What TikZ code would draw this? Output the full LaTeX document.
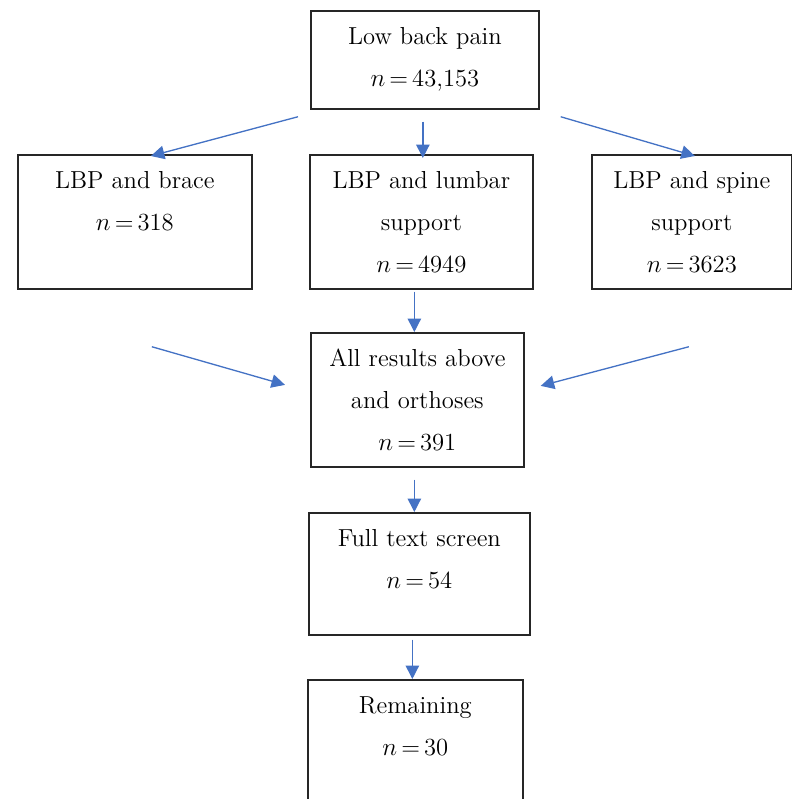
\documentclass[tikz,border=0pt]{standalone}
\usetikzlibrary{arrows.meta}
\definecolor{flowblue}{HTML}{4472C4}
\definecolor{ink}{HTML}{262626}
% box text: width, height, lines (top aligned)
\newcommand{\stagetext}[3]{\parbox[c][#2][t]{#1}{\centering\rule{0pt}{0.68cm}#3}}

\begin{document}
\begin{tikzpicture}[x=0.02cm,y=-0.02cm,font=\fontsize{14}{23.9}\selectfont,
  stage/.style={draw=ink,line width=1pt,inner sep=0pt,anchor=north west},
  flow/.style={draw=flowblue,line width=0.75pt,-{Triangle[length=0.27cm,width=0.27cm]}}]
  \useasboundingbox (0,0) rectangle (792,799);

  % search stages
  \node[stage] (pain) at (310,10) {\stagetext{4.56cm}{1.96cm}{Low back pain\\ $n$\,=\,43,153}};
  \node[stage] (brace) at (17,154) {\stagetext{4.68cm}{2.68cm}{LBP and brace\\ $n$\,=\,318}};
  \node[stage] (lumbar) at (309,154) {\stagetext{4.46cm}{2.68cm}{LBP and lumbar\\ support\\ $n$\,=\,4949}};
  \node[stage] (spine) at (591,154) {\stagetext{4.00cm}{2.68cm}{LBP and spine\\ support\\ $n$\,=\,3623}};
  \node[stage] (all) at (310,332) {\stagetext{4.26cm}{2.68cm}{All results above\\ and orthoses\\ $n$\,=\,391}};
  \node[stage] (screen) at (308,512) {\stagetext{4.42cm}{2.44cm}{Full text screen\\ $n$\,=\,54}};
  \node[stage] (remain) at (307,679) {\stagetext{4.30cm}{3.00cm}{Remaining\\ $n$\,=\,30}};

  % connectors
  \draw[flow] ([shift={(-12,7)}]pain.south west) -- ([shift={(16,2)}]brace.north);
  \draw[flow] ([shift={(-2,12)}]pain.south) -- ([shift={(-2,4)}]pain.south |- lumbar.north);
  \draw[flow] ([shift={(21,7)}]pain.south east) -- ([shift={(3,2)}]spine.north);
  \draw[flow] ([shift={(-7,2)}]lumbar.south) -- ([shift={(-7,0)}]lumbar.south |- all.north);
  \draw[flow] ([shift={(17,57)}]brace.south) -- ([shift={(-25,-15)}]all.west);
  \draw[flow] ([shift={(-3,57)}]spine.south) -- ([shift={(16,-14)}]all.east);
  \draw[flow] ([shift={(-3,12)}]all.south) -- ([shift={(-3,0)}]all.south |- screen.north);
  \draw[flow] ([shift={(-7,4)}]screen.south) -- ([shift={(-7,0)}]screen.south |- remain.north);
\end{tikzpicture}
\end{document}
